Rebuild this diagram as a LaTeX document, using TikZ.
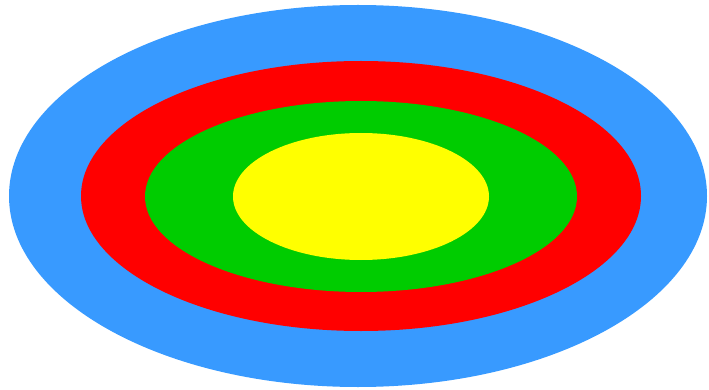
\documentclass[tikz,border=0pt]{standalone}
\usepackage{tikz}
\definecolor{ringBlue}{RGB}{56,154,255}
\definecolor{ringRed}{RGB}{255,0,0}
\definecolor{ringGreen}{RGB}{0,204,0}
\definecolor{ringYellow}{RGB}{255,255,0}

\begin{document}
\begin{tikzpicture}[
    x=1pt, y=-1pt,
    ring/.style={draw=none}
]
\useasboundingbox (0,0) rectangle (709,390);

% Outer to inner
\fill[ring, ringBlue] (358,196) ellipse [x radius=349, y radius=191];
\fill[ring, ringRed] (361,196) ellipse [x radius=280, y radius=135];
\fill[ring, ringGreen] (361,196.5) ellipse [x radius=216, y radius=95.5];
\fill[ring, ringYellow] (361,196.5) ellipse [x radius=128, y radius=63.5];

\end{tikzpicture}
\end{document}
